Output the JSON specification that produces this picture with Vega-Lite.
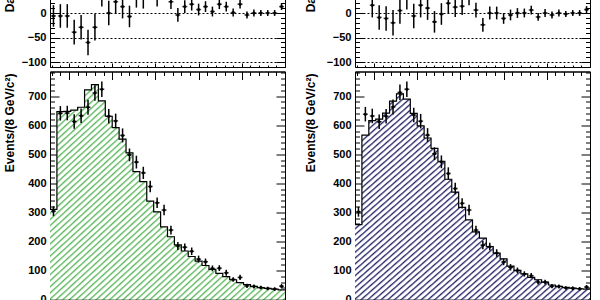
{
"$schema":"https://vega.github.io/schema/vega-lite/v6.json",
"background":"white",
"padding":{"left":2,"top":-43,"right":0,"bottom":0},
"config":{
 "view":{"stroke":"black","strokeWidth":1},
 "axis":{"grid":false,"labelFont":"Liberation Sans","labelFontWeight":"bold","labelFontSize":11,"labelColor":"black","titleFont":"Liberation Sans","titleFontWeight":"bold","titleFontSize":12,"titleColor":"black","tickColor":"black","domainColor":"black","tickWidth":1,"domainWidth":1,"zindex":1},
 "area":{"fill":{"gradient":"linear","x1":0,"y1":0,"x2":1.14,"y2":1.14,"stops":[
{"offset":0,"color":"#fff0"},{"offset":0.0045,"color":"#fff"},{"offset":0.0095,"color":"#fff"},
{"offset":0.0125,"color":"#fff0"},{"offset":0.017,"color":"#fff"},{"offset":0.022,"color":"#fff"},
{"offset":0.025,"color":"#fff0"},{"offset":0.0295,"color":"#fff"},{"offset":0.0345,"color":"#fff"},
{"offset":0.0375,"color":"#fff0"},{"offset":0.042,"color":"#fff"},{"offset":0.047,"color":"#fff"},
{"offset":0.05,"color":"#fff0"},{"offset":0.0545,"color":"#fff"},{"offset":0.0595,"color":"#fff"},
{"offset":0.0625,"color":"#fff0"},{"offset":0.067,"color":"#fff"},{"offset":0.072,"color":"#fff"},
{"offset":0.075,"color":"#fff0"},{"offset":0.0795,"color":"#fff"},{"offset":0.0845,"color":"#fff"},
{"offset":0.0875,"color":"#fff0"},{"offset":0.092,"color":"#fff"},{"offset":0.097,"color":"#fff"},
{"offset":0.1,"color":"#fff0"},{"offset":0.1045,"color":"#fff"},{"offset":0.1095,"color":"#fff"},
{"offset":0.1125,"color":"#fff0"},{"offset":0.117,"color":"#fff"},{"offset":0.122,"color":"#fff"},
{"offset":0.125,"color":"#fff0"},{"offset":0.1295,"color":"#fff"},{"offset":0.1345,"color":"#fff"},
{"offset":0.1375,"color":"#fff0"},{"offset":0.142,"color":"#fff"},{"offset":0.147,"color":"#fff"},
{"offset":0.15,"color":"#fff0"},{"offset":0.1545,"color":"#fff"},{"offset":0.1595,"color":"#fff"},
{"offset":0.1625,"color":"#fff0"},{"offset":0.167,"color":"#fff"},{"offset":0.172,"color":"#fff"},
{"offset":0.175,"color":"#fff0"},{"offset":0.1795,"color":"#fff"},{"offset":0.1845,"color":"#fff"},
{"offset":0.1875,"color":"#fff0"},{"offset":0.192,"color":"#fff"},{"offset":0.197,"color":"#fff"},
{"offset":0.2,"color":"#fff0"},{"offset":0.2045,"color":"#fff"},{"offset":0.2095,"color":"#fff"},
{"offset":0.2125,"color":"#fff0"},{"offset":0.217,"color":"#fff"},{"offset":0.222,"color":"#fff"},
{"offset":0.225,"color":"#fff0"},{"offset":0.2295,"color":"#fff"},{"offset":0.2345,"color":"#fff"},
{"offset":0.2375,"color":"#fff0"},{"offset":0.242,"color":"#fff"},{"offset":0.247,"color":"#fff"},
{"offset":0.25,"color":"#fff0"},{"offset":0.2545,"color":"#fff"},{"offset":0.2595,"color":"#fff"},
{"offset":0.2625,"color":"#fff0"},{"offset":0.267,"color":"#fff"},{"offset":0.272,"color":"#fff"},
{"offset":0.275,"color":"#fff0"},{"offset":0.2795,"color":"#fff"},{"offset":0.2845,"color":"#fff"},
{"offset":0.2875,"color":"#fff0"},{"offset":0.292,"color":"#fff"},{"offset":0.297,"color":"#fff"},
{"offset":0.3,"color":"#fff0"},{"offset":0.3045,"color":"#fff"},{"offset":0.3095,"color":"#fff"},
{"offset":0.3125,"color":"#fff0"},{"offset":0.317,"color":"#fff"},{"offset":0.322,"color":"#fff"},
{"offset":0.325,"color":"#fff0"},{"offset":0.3295,"color":"#fff"},{"offset":0.3345,"color":"#fff"},
{"offset":0.3375,"color":"#fff0"},{"offset":0.342,"color":"#fff"},{"offset":0.347,"color":"#fff"},
{"offset":0.35,"color":"#fff0"},{"offset":0.3545,"color":"#fff"},{"offset":0.3595,"color":"#fff"},
{"offset":0.3625,"color":"#fff0"},{"offset":0.367,"color":"#fff"},{"offset":0.372,"color":"#fff"},
{"offset":0.375,"color":"#fff0"},{"offset":0.3795,"color":"#fff"},{"offset":0.3845,"color":"#fff"},
{"offset":0.3875,"color":"#fff0"},{"offset":0.392,"color":"#fff"},{"offset":0.397,"color":"#fff"},
{"offset":0.4,"color":"#fff0"},{"offset":0.4045,"color":"#fff"},{"offset":0.4095,"color":"#fff"},
{"offset":0.4125,"color":"#fff0"},{"offset":0.417,"color":"#fff"},{"offset":0.422,"color":"#fff"},
{"offset":0.425,"color":"#fff0"},{"offset":0.4295,"color":"#fff"},{"offset":0.4345,"color":"#fff"},
{"offset":0.4375,"color":"#fff0"},{"offset":0.442,"color":"#fff"},{"offset":0.447,"color":"#fff"},
{"offset":0.45,"color":"#fff0"},{"offset":0.4545,"color":"#fff"},{"offset":0.4595,"color":"#fff"},
{"offset":0.4625,"color":"#fff0"},{"offset":0.467,"color":"#fff"},{"offset":0.472,"color":"#fff"},
{"offset":0.475,"color":"#fff0"},{"offset":0.4795,"color":"#fff"},{"offset":0.4845,"color":"#fff"},
{"offset":0.4875,"color":"#fff0"},{"offset":0.492,"color":"#fff"},{"offset":0.497,"color":"#fff"},
{"offset":0.5,"color":"#fff0"},{"offset":0.5045,"color":"#fff"},{"offset":0.5095,"color":"#fff"},
{"offset":0.5125,"color":"#fff0"},{"offset":0.517,"color":"#fff"},{"offset":0.522,"color":"#fff"},
{"offset":0.525,"color":"#fff0"},{"offset":0.5295,"color":"#fff"},{"offset":0.5345,"color":"#fff"},
{"offset":0.5375,"color":"#fff0"},{"offset":0.542,"color":"#fff"},{"offset":0.547,"color":"#fff"},
{"offset":0.55,"color":"#fff0"},{"offset":0.5545,"color":"#fff"},{"offset":0.5595,"color":"#fff"},
{"offset":0.5625,"color":"#fff0"},{"offset":0.567,"color":"#fff"},{"offset":0.572,"color":"#fff"},
{"offset":0.575,"color":"#fff0"},{"offset":0.5795,"color":"#fff"},{"offset":0.5845,"color":"#fff"},
{"offset":0.5875,"color":"#fff0"},{"offset":0.592,"color":"#fff"},{"offset":0.597,"color":"#fff"},
{"offset":0.6,"color":"#fff0"},{"offset":0.6045,"color":"#fff"},{"offset":0.6095,"color":"#fff"},
{"offset":0.6125,"color":"#fff0"},{"offset":0.617,"color":"#fff"},{"offset":0.622,"color":"#fff"},
{"offset":0.625,"color":"#fff0"},{"offset":0.6295,"color":"#fff"},{"offset":0.6345,"color":"#fff"},
{"offset":0.6375,"color":"#fff0"},{"offset":0.642,"color":"#fff"},{"offset":0.647,"color":"#fff"},
{"offset":0.65,"color":"#fff0"},{"offset":0.6545,"color":"#fff"},{"offset":0.6595,"color":"#fff"},
{"offset":0.6625,"color":"#fff0"},{"offset":0.667,"color":"#fff"},{"offset":0.672,"color":"#fff"},
{"offset":0.675,"color":"#fff0"},{"offset":0.6795,"color":"#fff"},{"offset":0.6845,"color":"#fff"},
{"offset":0.6875,"color":"#fff0"},{"offset":0.692,"color":"#fff"},{"offset":0.697,"color":"#fff"},
{"offset":0.7,"color":"#fff0"},{"offset":0.7045,"color":"#fff"},{"offset":0.7095,"color":"#fff"},
{"offset":0.7125,"color":"#fff0"},{"offset":0.717,"color":"#fff"},{"offset":0.722,"color":"#fff"},
{"offset":0.725,"color":"#fff0"},{"offset":0.7295,"color":"#fff"},{"offset":0.7345,"color":"#fff"},
{"offset":0.7375,"color":"#fff0"},{"offset":0.742,"color":"#fff"},{"offset":0.747,"color":"#fff"},
{"offset":0.75,"color":"#fff0"},{"offset":0.7545,"color":"#fff"},{"offset":0.7595,"color":"#fff"},
{"offset":0.7625,"color":"#fff0"},{"offset":0.767,"color":"#fff"},{"offset":0.772,"color":"#fff"},
{"offset":0.775,"color":"#fff0"},{"offset":0.7795,"color":"#fff"},{"offset":0.7845,"color":"#fff"},
{"offset":0.7875,"color":"#fff0"},{"offset":0.792,"color":"#fff"},{"offset":0.797,"color":"#fff"},
{"offset":0.8,"color":"#fff0"},{"offset":0.8045,"color":"#fff"},{"offset":0.8095,"color":"#fff"},
{"offset":0.8125,"color":"#fff0"},{"offset":0.817,"color":"#fff"},{"offset":0.822,"color":"#fff"},
{"offset":0.825,"color":"#fff0"},{"offset":0.8295,"color":"#fff"},{"offset":0.8345,"color":"#fff"},
{"offset":0.8375,"color":"#fff0"},{"offset":0.842,"color":"#fff"},{"offset":0.847,"color":"#fff"},
{"offset":0.85,"color":"#fff0"},{"offset":0.8545,"color":"#fff"},{"offset":0.8595,"color":"#fff"},
{"offset":0.8625,"color":"#fff0"},{"offset":0.867,"color":"#fff"},{"offset":0.872,"color":"#fff"},
{"offset":0.875,"color":"#fff0"},{"offset":0.8795,"color":"#fff"},{"offset":0.8845,"color":"#fff"},
{"offset":0.8875,"color":"#fff0"},{"offset":0.892,"color":"#fff"},{"offset":0.897,"color":"#fff"}
 ]}}
},
"datasets":{
 "left":[
{"lo":28,"c":32,"fit":310,"d":304,"dl":287,"dh":321,"r":-6,"rl":-28,"rh":16},
{"lo":36,"c":40,"fit":647,"d":641,"dl":616,"dh":666,"r":-6,"rl":-30,"rh":18},
{"lo":44,"c":48,"fit":648,"d":642,"dl":617,"dh":667,"r":-6,"rl":-30,"rh":18},
{"lo":52,"c":56,"fit":652,"d":613,"dl":588,"dh":638,"r":-39,"rl":-64,"rh":-14},
{"lo":60,"c":64,"fit":662,"d":633,"dl":608,"dh":658,"r":-29,"rl":-54,"rh":-4},
{"lo":68,"c":72,"fit":722,"d":662,"dl":636,"dh":688,"r":-60,"rl":-86,"rh":-34},
{"lo":76,"c":80,"fit":740,"d":711,"dl":684,"dh":738,"r":-29,"rl":-56,"rh":-2},
{"lo":84,"c":88,"fit":684,"d":724,"dl":697,"dh":751,"r":40,"rl":13,"rh":67},
{"lo":92,"c":96,"fit":631,"d":631,"dl":606,"dh":656,"r":0,"rl":-25,"rh":25},
{"lo":100,"c":104,"fit":592,"d":615,"dl":590,"dh":640,"r":23,"rl":-2,"rh":48},
{"lo":108,"c":112,"fit":552,"d":565,"dl":541,"dh":589,"r":13,"rl":-11,"rh":37},
{"lo":116,"c":120,"fit":505,"d":498,"dl":476,"dh":520,"r":-7,"rl":-29,"rh":15},
{"lo":124,"c":128,"fit":440,"d":473,"dl":451,"dh":495,"r":33,"rl":11,"rh":55},
{"lo":132,"c":136,"fit":406,"d":436,"dl":415,"dh":457,"r":30,"rl":9,"rh":51},
{"lo":140,"c":144,"fit":339,"d":389,"dl":369,"dh":409,"r":50,"rl":30,"rh":70},
{"lo":148,"c":152,"fit":302,"d":333,"dl":315,"dh":351,"r":31,"rl":13,"rh":49},
{"lo":156,"c":160,"fit":250,"d":308,"dl":290,"dh":326,"r":58,"rl":40,"rh":76},
{"lo":164,"c":168,"fit":216,"d":239,"dl":224,"dh":254,"r":23,"rl":8,"rh":38},
{"lo":172,"c":176,"fit":188,"d":184,"dl":170,"dh":198,"r":-4,"rl":-18,"rh":10},
{"lo":180,"c":184,"fit":167,"d":180,"dl":167,"dh":193,"r":13,"rl":0,"rh":26},
{"lo":188,"c":192,"fit":148,"d":166,"dl":153,"dh":179,"r":18,"rl":5,"rh":31},
{"lo":196,"c":200,"fit":132,"d":139,"dl":127,"dh":151,"r":7,"rl":-5,"rh":19},
{"lo":204,"c":208,"fit":117,"d":130,"dl":119,"dh":141,"r":13,"rl":2,"rh":24},
{"lo":212,"c":216,"fit":104,"d":107,"dl":97,"dh":117,"r":3,"rl":-7,"rh":13},
{"lo":220,"c":224,"fit":90,"d":108,"dl":98,"dh":118,"r":18,"rl":8,"rh":28},
{"lo":228,"c":232,"fit":79,"d":92,"dl":82,"dh":102,"r":13,"rl":3,"rh":23},
{"lo":236,"c":240,"fit":68,"d":69,"dl":61,"dh":77,"r":1,"rl":-7,"rh":9},
{"lo":244,"c":248,"fit":58,"d":76,"dl":67,"dh":85,"r":18,"rl":9,"rh":27},
{"lo":252,"c":256,"fit":51,"d":47,"dl":40,"dh":54,"r":-4,"rl":-11,"rh":3},
{"lo":260,"c":264,"fit":45,"d":45,"dl":38,"dh":52,"r":0,"rl":-7,"rh":7},
{"lo":268,"c":272,"fit":41,"d":41,"dl":35,"dh":47,"r":0,"rl":-6,"rh":6},
{"lo":276,"c":280,"fit":38,"d":38,"dl":32,"dh":44,"r":0,"rl":-6,"rh":6},
{"lo":284,"c":288,"fit":36,"d":36,"dl":30,"dh":42,"r":0,"rl":-6,"rh":6},
{"lo":292,"c":296,"fit":33,"d":46,"dl":39,"dh":53,"r":13,"rl":6,"rh":20},
{"lo":300,"fit":33}
 ],
 "right":[
{"lo":28,"c":32,"fit":258,"d":302,"dl":285,"dh":319,"r":44,"rl":27,"rh":61},
{"lo":36,"c":40,"fit":566,"d":638,"dl":613,"dh":663,"r":72,"rl":47,"rh":97},
{"lo":44,"c":48,"fit":616,"d":632,"dl":607,"dh":657,"r":16,"rl":-9,"rh":41},
{"lo":52,"c":56,"fit":621,"d":612,"dl":587,"dh":637,"r":-9,"rl":-34,"rh":16},
{"lo":60,"c":64,"fit":642,"d":631,"dl":606,"dh":656,"r":-11,"rl":-36,"rh":14},
{"lo":68,"c":72,"fit":683,"d":663,"dl":637,"dh":689,"r":-20,"rl":-46,"rh":6},
{"lo":76,"c":80,"fit":708,"d":713,"dl":686,"dh":740,"r":5,"rl":-22,"rh":32},
{"lo":84,"c":88,"fit":690,"d":724,"dl":697,"dh":751,"r":34,"rl":7,"rh":61},
{"lo":92,"c":96,"fit":641,"d":635,"dl":610,"dh":660,"r":-6,"rl":-31,"rh":19},
{"lo":100,"c":104,"fit":598,"d":614,"dl":589,"dh":639,"r":16,"rl":-9,"rh":41},
{"lo":108,"c":112,"fit":556,"d":566,"dl":542,"dh":590,"r":10,"rl":-14,"rh":34},
{"lo":116,"c":120,"fit":520,"d":502,"dl":480,"dh":524,"r":-18,"rl":-40,"rh":4},
{"lo":124,"c":128,"fit":476,"d":474,"dl":452,"dh":496,"r":-2,"rl":-24,"rh":20},
{"lo":132,"c":136,"fit":414,"d":434,"dl":413,"dh":455,"r":20,"rl":-1,"rh":41},
{"lo":140,"c":144,"fit":370,"d":382,"dl":362,"dh":402,"r":12,"rl":-8,"rh":32},
{"lo":148,"c":152,"fit":317,"d":331,"dl":313,"dh":349,"r":14,"rl":-4,"rh":32},
{"lo":156,"c":160,"fit":274,"d":308,"dl":290,"dh":326,"r":34,"rl":16,"rh":52},
{"lo":164,"c":168,"fit":233,"d":239,"dl":224,"dh":254,"r":6,"rl":-9,"rh":21},
{"lo":172,"c":176,"fit":211,"d":187,"dl":173,"dh":201,"r":-24,"rl":-38,"rh":-10},
{"lo":180,"c":184,"fit":182,"d":182,"dl":169,"dh":195,"r":0,"rl":-13,"rh":13},
{"lo":188,"c":192,"fit":160,"d":160,"dl":147,"dh":173,"r":0,"rl":-13,"rh":13},
{"lo":196,"c":200,"fit":140,"d":129,"dl":118,"dh":140,"r":-11,"rl":-22,"rh":0},
{"lo":204,"c":208,"fit":115,"d":111,"dl":100,"dh":122,"r":-4,"rl":-15,"rh":7},
{"lo":212,"c":216,"fit":100,"d":100,"dl":90,"dh":110,"r":0,"rl":-10,"rh":10},
{"lo":220,"c":224,"fit":88,"d":88,"dl":79,"dh":97,"r":0,"rl":-9,"rh":9},
{"lo":228,"c":232,"fit":76,"d":82,"dl":73,"dh":91,"r":6,"rl":-3,"rh":15},
{"lo":236,"c":240,"fit":68,"d":60,"dl":52,"dh":68,"r":-8,"rl":-16,"rh":0},
{"lo":244,"c":248,"fit":60,"d":60,"dl":52,"dh":68,"r":0,"rl":-8,"rh":8},
{"lo":252,"c":256,"fit":50,"d":46,"dl":39,"dh":53,"r":-4,"rl":-11,"rh":3},
{"lo":260,"c":264,"fit":45,"d":45,"dl":38,"dh":52,"r":0,"rl":-7,"rh":7},
{"lo":268,"c":272,"fit":42,"d":40,"dl":34,"dh":46,"r":-2,"rl":-8,"rh":4},
{"lo":276,"c":280,"fit":39,"d":39,"dl":33,"dh":45,"r":0,"rl":-6,"rh":6},
{"lo":284,"c":288,"fit":37,"d":37,"dl":31,"dh":43,"r":0,"rl":-6,"rh":6},
{"lo":292,"c":296,"fit":36,"d":43,"dl":36,"dh":50,"r":7,"rl":0,"rh":14},
{"lo":300,"fit":36}
 ]
},
"spacing":15,
"hconcat":[
 {"spacing":2.5,"vconcat":[
  {"width":235,"height":108,"data":{"name":"left"},
   "transform":[{"filter":"isValid(datum.r)"}],
   "resolve":{"scale":{"x":"shared","y":"shared"},"axis":{"x":"independent","y":"independent"}},
   "layer":[
    {"mark":{"type":"rule","color":"black","strokeWidth":1.5},
     "encoding":{
      "x":{"field":"c","type":"quantitative","scale":{"domain":[28,300],"nice":false,"zero":false},"axis":{"orient":"bottom","values":[50,100,150,200,250,300],"tickSize":-4,"labels":false,"domain":false,"title":null}},
      "y":{"field":"rl","type":"quantitative","scale":{"domain":[-110,110],"nice":false,"zero":false},"axis":{"orient":"left","values":[-100,-50,0,50,100],"tickSize":-9,"labelPadding":13,"grid":true,"gridDash":[2,2],"gridColor":"black","gridWidth":1,"domain":true,"zindex":0,"title":"Data - Fit","titleX":-36.5,"titleY":1.5,"titleAngle":-90,"titleAlign":"right","titleBaseline":"alphabetic"}},
      "y2":{"field":"rh"}}},
    {"mark":{"type":"tick","orient":"horizontal","size":5,"thickness":1.5,"color":"black"},
     "encoding":{
      "x":{"field":"c","type":"quantitative","scale":{"domain":[28,300],"nice":false,"zero":false},"axis":{"orient":"bottom","values":[30,40,60,70,80,90,110,120,130,140,160,170,180,190,210,220,230,240,260,270,280,290],"tickSize":-2,"labels":false,"domain":false,"title":null}},
      "y":{"field":"r","type":"quantitative","scale":{"domain":[-110,110],"nice":false,"zero":false},"axis":{"orient":"left","values":[-90,-80,-70,-60,-40,-30,-20,-10,10,20,30,40,60,70,80,90],"tickSize":-4.5,"labels":false,"domain":false,"title":null}}}},
    {"mark":{"type":"point","filled":true,"size":9,"color":"black","opacity":1},
     "encoding":{
      "x":{"field":"c","type":"quantitative","scale":{"domain":[28,300],"nice":false,"zero":false},"axis":null},
      "y":{"field":"r","type":"quantitative","scale":{"domain":[-110,110],"nice":false,"zero":false},"axis":{"orient":"right","values":[-100,-50,0,50,100],"tickSize":-9,"labels":false,"domain":true,"title":null}}}},
    {"mark":{"type":"point","opacity":0},
     "encoding":{
      "x":{"field":"c","type":"quantitative","scale":{"domain":[28,300],"nice":false,"zero":false},"axis":null},
      "y":{"field":"r","type":"quantitative","scale":{"domain":[-110,110],"nice":false,"zero":false},"axis":{"orient":"right","values":[-90,-80,-70,-60,-40,-30,-20,-10,10,20,30,40,60,70,80,90],"tickSize":-4.5,"labels":false,"domain":false,"title":null}}}}
   ]},
  {"width":235,"height":228,"data":{"name":"left"},
   "resolve":{"scale":{"x":"shared","y":"shared"},"axis":{"x":"independent","y":"independent"}},
   "layer":[
    {"mark":{"type":"area","interpolate":"step-after","fill":"#5cb85c"},
     "encoding":{
      "x":{"field":"lo","type":"quantitative","scale":{"domain":[28,300],"nice":false,"zero":false},"axis":{"orient":"bottom","values":[50,100,150,200,250,300],"tickSize":-8,"labels":false,"domain":true,"title":null}},
      "y":{"field":"fit","type":"quantitative","scale":{"domain":[0,785],"nice":false,"zero":false},"axis":{"orient":"left","values":[0,100,200,300,400,500,600,700],"tickSize":-9,"labelPadding":13,"domain":true,"title":"Events/(8 GeV/c²)","titleX":-36.5,"titleY":1.5,"titleAngle":-90,"titleAlign":"right","titleBaseline":"alphabetic"}}}},
    {"mark":{"type":"area","interpolate":"step-after"},
     "encoding":{
      "x":{"field":"lo","type":"quantitative","scale":{"domain":[28,300],"nice":false,"zero":false},"axis":{"orient":"bottom","values":[30,40,60,70,80,90,110,120,130,140,160,170,180,190,210,220,230,240,260,270,280,290],"tickSize":-4,"labels":false,"domain":false,"title":null}},
      "y":{"field":"fit","type":"quantitative","scale":{"domain":[0,785],"nice":false,"zero":false},"axis":{"orient":"left","values":[20,40,60,80,120,140,160,180,220,240,260,280,320,340,360,380,420,440,460,480,520,540,560,580,620,640,660,680,720,740,760,780],"tickSize":-4.5,"labels":false,"domain":false,"title":null}}}},
    {"mark":{"type":"line","interpolate":"step-after","color":"black","strokeWidth":1.2},
     "encoding":{
      "x":{"field":"lo","type":"quantitative","scale":{"domain":[28,300],"nice":false,"zero":false},"axis":{"orient":"top","values":[50,100,150,200,250,300],"tickSize":-8,"labels":false,"domain":true,"title":null}},
      "y":{"field":"fit","type":"quantitative","scale":{"domain":[0,785],"nice":false,"zero":false},"axis":{"orient":"right","values":[0,100,200,300,400,500,600,700],"tickSize":-9,"labels":false,"domain":true,"title":null}}}},
    {"transform":[{"filter":"isValid(datum.d)"}],
     "mark":{"type":"rule","color":"black","strokeWidth":1.5},
     "encoding":{
      "x":{"field":"c","type":"quantitative","scale":{"domain":[28,300],"nice":false,"zero":false},"axis":{"orient":"top","values":[30,40,60,70,80,90,110,120,130,140,160,170,180,190,210,220,230,240,260,270,280,290],"tickSize":-4,"labels":false,"domain":false,"title":null}},
      "y":{"field":"dl","type":"quantitative","scale":{"domain":[0,785],"nice":false,"zero":false},"axis":{"orient":"right","values":[20,40,60,80,120,140,160,180,220,240,260,280,320,340,360,380,420,440,460,480,520,540,560,580,620,640,660,680,720,740,760,780],"tickSize":-4.5,"labels":false,"domain":false,"title":null}},
      "y2":{"field":"dh"}}},
    {"transform":[{"filter":"isValid(datum.d)"}],
     "mark":{"type":"tick","orient":"horizontal","size":5,"thickness":1.5,"color":"black"},
     "encoding":{
      "x":{"field":"c","type":"quantitative","scale":{"domain":[28,300],"nice":false,"zero":false},"axis":null},
      "y":{"field":"d","type":"quantitative","scale":{"domain":[0,785],"nice":false,"zero":false},"axis":null}}},
    {"transform":[{"filter":"isValid(datum.d)"}],
     "mark":{"type":"point","filled":true,"size":9,"color":"black","opacity":1},
     "encoding":{
      "x":{"field":"c","type":"quantitative","scale":{"domain":[28,300],"nice":false,"zero":false},"axis":null},
      "y":{"field":"d","type":"quantitative","scale":{"domain":[0,785],"nice":false,"zero":false},"axis":null}}}
   ]}
 ]},
 {"spacing":2.5,"vconcat":[
  {"width":235,"height":108,"data":{"name":"right"},
   "transform":[{"filter":"isValid(datum.r)"}],
   "resolve":{"scale":{"x":"shared","y":"shared"},"axis":{"x":"independent","y":"independent"}},
   "layer":[
    {"mark":{"type":"rule","color":"black","strokeWidth":1.5},
     "encoding":{
      "x":{"field":"c","type":"quantitative","scale":{"domain":[28,300],"nice":false,"zero":false},"axis":{"orient":"bottom","values":[50,100,150,200,250,300],"tickSize":-4,"labels":false,"domain":false,"title":null}},
      "y":{"field":"rl","type":"quantitative","scale":{"domain":[-110,110],"nice":false,"zero":false},"axis":{"orient":"left","values":[-100,-50,0,50,100],"tickSize":-9,"labelPadding":13,"grid":true,"gridDash":[2,2],"gridColor":"black","gridWidth":1,"domain":true,"zindex":0,"title":"Data - Fit","titleX":-41,"titleY":1.5,"titleAngle":-90,"titleAlign":"right","titleBaseline":"alphabetic"}},
      "y2":{"field":"rh"}}},
    {"mark":{"type":"tick","orient":"horizontal","size":5,"thickness":1.5,"color":"black"},
     "encoding":{
      "x":{"field":"c","type":"quantitative","scale":{"domain":[28,300],"nice":false,"zero":false},"axis":{"orient":"bottom","values":[30,40,60,70,80,90,110,120,130,140,160,170,180,190,210,220,230,240,260,270,280,290],"tickSize":-2,"labels":false,"domain":false,"title":null}},
      "y":{"field":"r","type":"quantitative","scale":{"domain":[-110,110],"nice":false,"zero":false},"axis":{"orient":"left","values":[-90,-80,-70,-60,-40,-30,-20,-10,10,20,30,40,60,70,80,90],"tickSize":-4.5,"labels":false,"domain":false,"title":null}}}},
    {"mark":{"type":"point","filled":true,"size":9,"color":"black","opacity":1},
     "encoding":{
      "x":{"field":"c","type":"quantitative","scale":{"domain":[28,300],"nice":false,"zero":false},"axis":null},
      "y":{"field":"r","type":"quantitative","scale":{"domain":[-110,110],"nice":false,"zero":false},"axis":{"orient":"right","values":[-100,-50,0,50,100],"tickSize":-9,"labels":false,"domain":true,"title":null}}}},
    {"mark":{"type":"point","opacity":0},
     "encoding":{
      "x":{"field":"c","type":"quantitative","scale":{"domain":[28,300],"nice":false,"zero":false},"axis":null},
      "y":{"field":"r","type":"quantitative","scale":{"domain":[-110,110],"nice":false,"zero":false},"axis":{"orient":"right","values":[-90,-80,-70,-60,-40,-30,-20,-10,10,20,30,40,60,70,80,90],"tickSize":-4.5,"labels":false,"domain":false,"title":null}}}}
   ]},
  {"width":235,"height":228,"data":{"name":"right"},
   "resolve":{"scale":{"x":"shared","y":"shared"},"axis":{"x":"independent","y":"independent"}},
   "layer":[
    {"mark":{"type":"area","interpolate":"step-after","fill":"#26266a"},
     "encoding":{
      "x":{"field":"lo","type":"quantitative","scale":{"domain":[28,300],"nice":false,"zero":false},"axis":{"orient":"bottom","values":[50,100,150,200,250,300],"tickSize":-8,"labels":false,"domain":true,"title":null}},
      "y":{"field":"fit","type":"quantitative","scale":{"domain":[0,785],"nice":false,"zero":false},"axis":{"orient":"left","values":[0,100,200,300,400,500,600,700],"tickSize":-9,"labelPadding":13,"domain":true,"title":"Events/(8 GeV/c²)","titleX":-41,"titleY":1.5,"titleAngle":-90,"titleAlign":"right","titleBaseline":"alphabetic"}}}},
    {"mark":{"type":"area","interpolate":"step-after"},
     "encoding":{
      "x":{"field":"lo","type":"quantitative","scale":{"domain":[28,300],"nice":false,"zero":false},"axis":{"orient":"bottom","values":[30,40,60,70,80,90,110,120,130,140,160,170,180,190,210,220,230,240,260,270,280,290],"tickSize":-4,"labels":false,"domain":false,"title":null}},
      "y":{"field":"fit","type":"quantitative","scale":{"domain":[0,785],"nice":false,"zero":false},"axis":{"orient":"left","values":[20,40,60,80,120,140,160,180,220,240,260,280,320,340,360,380,420,440,460,480,520,540,560,580,620,640,660,680,720,740,760,780],"tickSize":-4.5,"labels":false,"domain":false,"title":null}}}},
    {"mark":{"type":"line","interpolate":"step-after","color":"black","strokeWidth":1.2},
     "encoding":{
      "x":{"field":"lo","type":"quantitative","scale":{"domain":[28,300],"nice":false,"zero":false},"axis":{"orient":"top","values":[50,100,150,200,250,300],"tickSize":-8,"labels":false,"domain":true,"title":null}},
      "y":{"field":"fit","type":"quantitative","scale":{"domain":[0,785],"nice":false,"zero":false},"axis":{"orient":"right","values":[0,100,200,300,400,500,600,700],"tickSize":-9,"labels":false,"domain":true,"title":null}}}},
    {"transform":[{"filter":"isValid(datum.d)"}],
     "mark":{"type":"rule","color":"black","strokeWidth":1.5},
     "encoding":{
      "x":{"field":"c","type":"quantitative","scale":{"domain":[28,300],"nice":false,"zero":false},"axis":{"orient":"top","values":[30,40,60,70,80,90,110,120,130,140,160,170,180,190,210,220,230,240,260,270,280,290],"tickSize":-4,"labels":false,"domain":false,"title":null}},
      "y":{"field":"dl","type":"quantitative","scale":{"domain":[0,785],"nice":false,"zero":false},"axis":{"orient":"right","values":[20,40,60,80,120,140,160,180,220,240,260,280,320,340,360,380,420,440,460,480,520,540,560,580,620,640,660,680,720,740,760,780],"tickSize":-4.5,"labels":false,"domain":false,"title":null}},
      "y2":{"field":"dh"}}},
    {"transform":[{"filter":"isValid(datum.d)"}],
     "mark":{"type":"tick","orient":"horizontal","size":5,"thickness":1.5,"color":"black"},
     "encoding":{
      "x":{"field":"c","type":"quantitative","scale":{"domain":[28,300],"nice":false,"zero":false},"axis":null},
      "y":{"field":"d","type":"quantitative","scale":{"domain":[0,785],"nice":false,"zero":false},"axis":null}}},
    {"transform":[{"filter":"isValid(datum.d)"}],
     "mark":{"type":"point","filled":true,"size":9,"color":"black","opacity":1},
     "encoding":{
      "x":{"field":"c","type":"quantitative","scale":{"domain":[28,300],"nice":false,"zero":false},"axis":null},
      "y":{"field":"d","type":"quantitative","scale":{"domain":[0,785],"nice":false,"zero":false},"axis":null}}}
   ]}
 ]}
]
}
